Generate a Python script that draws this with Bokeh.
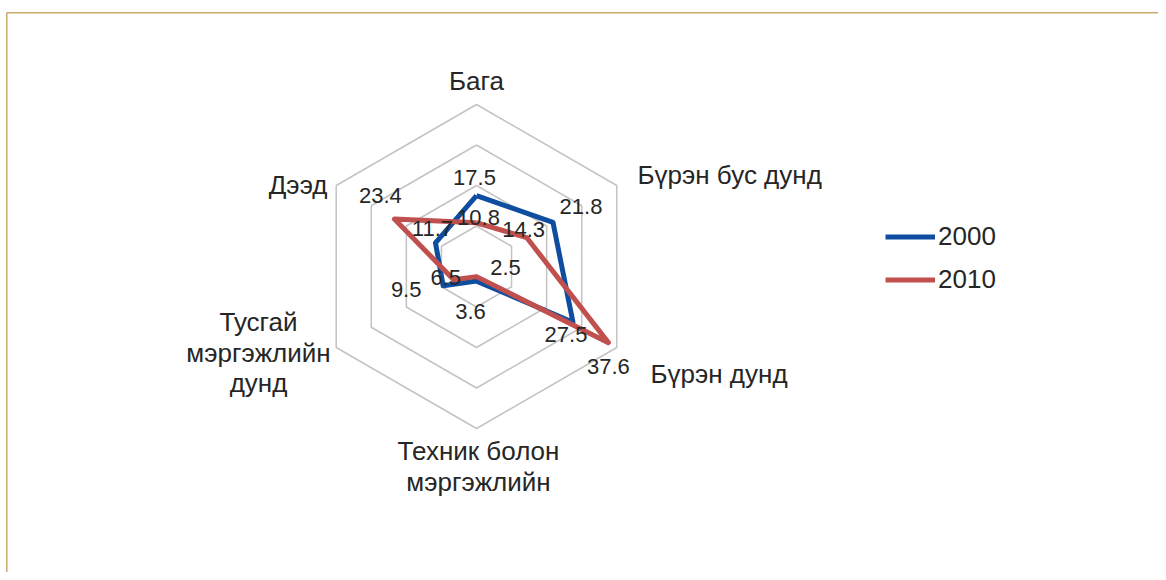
import numpy as np
from bokeh.plotting import figure
from bokeh.models import Range1d, Legend, LegendItem, ColumnDataSource
from bokeh.core.properties import value
from bokeh.embed import file_html
from bokeh.resources import INLINE

# ---------------- data ----------------
categories = ["Бага", "Бүрэн бус дунд", "Бүрэн дунд",
              "Техник болон\nмэргэжлийн", "Тусгай\nмэргэжлийн\nдунд", "Дээд"]
series_names = ["2000", "2010"]
values_2000 = [17.5, 21.8, 27.5, 3.6, 9.5, 11.7]
values_2010 = [10.8, 14.3, 37.6, 2.5, 6.5, 23.4]
ring_levels = [10, 20, 30, 40]

# ---------------- layout / style ----------------
W, H = 1158, 572
k = 4.05                     # px per data unit
cxf, cyf = 476, 266          # centre in figure pixels
angles = np.deg2rad([90, 30, -30, -90, -150, 150])
FONT = "Liberation Sans"
BLUE = "#0E4D9F"
RED = "#C0504D"
GRID = "#C3C3C3"
TXT = "#262626"

# label offsets in screen px (dx, dy down)
off_2000 = [(-2, -18), (28, -16), (-7, 12), (-6, 30), (-37, 4), (-3, -14)]
off_2010 = [(2, -5), (-3, -8), (0, 24), (29, -9), (-8, -2), (-14, -24)]
# category label anchors (dx, dy down of block centre), alignment
cat_pos = [(0, -186, "center"), (161, -92, "left"), (174, 107, "left"),
           (2, 200, "center"), (-218, 86, "center"), (-149, -82, "right")]

p = figure(width=W, height=H,
           x_range=Range1d(-cxf / k, (W - cxf) / k),
           y_range=Range1d(-(H - cyf) / k, cyf / k),
           x_axis_location=None, y_axis_location=None,
           toolbar_location=None, output_backend="svg",
           min_border=0)
p.grid.visible = False
p.outline_line_color = None
p.background_fill_color = "white"
p.border_fill_color = "white"

# frame lines (top and left)
top_y = (cyf - 12.3) / k
left_x = (6.3 - cxf) / k
p.segment(x0=[left_x, left_x], y0=[top_y, top_y],
          x1=[(W - cxf) / k + 1, left_x], y1=[top_y, -(H - cyf) / k - 1],
          line_color="#C8AA6C", line_width=1.5)

# hexagon rings
for lv in ring_levels:
    xs = list(lv * np.cos(angles)) + [lv * np.cos(angles[0])]
    ys = list(lv * np.sin(angles)) + [lv * np.sin(angles[0])]
    p.line(xs, ys, line_color=GRID, line_width=1.5)

def poly(vals):
    v = np.array(vals)
    xs = v * np.cos(angles)
    ys = v * np.sin(angles)
    return list(xs) + [xs[0]], list(ys) + [ys[0]]

renderers = []
for vals, col in [(values_2000, BLUE), (values_2010, RED)]:
    xs, ys = poly(vals)
    r = p.line(xs, ys, line_color=col, line_width=5, line_join="round")
    renderers.append(r)

# data labels
for vals, offs in [(values_2000, off_2000), (values_2010, off_2010)]:
    v = np.array(vals)
    lx = v * np.cos(angles) + np.array([o[0] for o in offs]) / k
    ly = v * np.sin(angles) - np.array([o[1] for o in offs]) / k
    src = ColumnDataSource(dict(x=lx, y=ly, t=[f"{a:.1f}" for a in vals]))
    p.text(x="x", y="y", text="t", source=src, text_align="center",
           text_baseline="middle", text_font=value(FONT),
           text_font_size="22px", text_color=TXT)

# category labels
line_h = 30.5
for name, (dx, dy, al) in zip(categories, cat_pos):
    lines = name.split("\n")
    n = len(lines)
    for i, ln in enumerate(lines):
        yy = dy + (i - (n - 1) / 2) * line_h
        p.text(x=[dx / k], y=[-yy / k], text=[ln], text_align=al,
               text_baseline="middle", text_font=value(FONT),
               text_font_size="26px", text_color=TXT)

legend = Legend(items=[LegendItem(label=series_names[0], renderers=[renderers[0]]),
                       LegendItem(label=series_names[1], renderers=[renderers[1]])],
                location=(885, 271), orientation="vertical",
                glyph_width=50, glyph_height=43, label_height=43,
                spacing=0, padding=0, margin=0, label_standoff=3,
                border_line_color=None, background_fill_alpha=0,
                label_text_font=FONT, label_text_font_size="26px",
                label_text_color=TXT)
p.add_layout(legend)

open("out.html", "w").write(file_html(p, INLINE))
